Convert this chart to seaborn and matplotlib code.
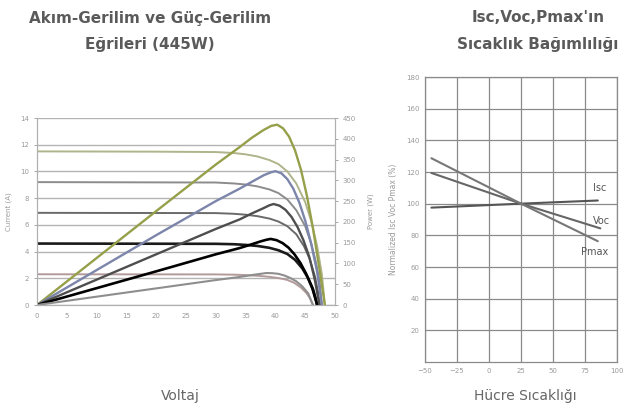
import matplotlib
matplotlib.use("Agg")
import matplotlib.pyplot as plt
import seaborn as sns

sns.set_theme(style="white")
plt.rcParams['font.family'] = ['DejaVu Sans']

# ---------------- Left chart data ----------------
iv_v1 = [0, 20, 30, 33, 35, 37, 39, 40.5, 42, 43.5, 45, 46, 47, 47.8, 48.3]
iv_i1 = [11.5, 11.48, 11.45, 11.38, 11.28, 11.12, 10.85, 10.55, 10.0, 9.1, 7.7, 6.3, 4.4, 2.3, 0]
iv_v2 = [0, 30, 33, 35, 37, 39, 40.5, 42, 43.5, 45, 46, 46.8, 47.4, 47.8]
iv_i2 = [9.2, 9.17, 9.1, 9.02, 8.88, 8.65, 8.38, 7.9, 7.1, 5.9, 4.6, 3.2, 1.8, 0]
iv_v3 = [0, 30, 33, 35, 37, 39, 40.5, 42, 43.5, 44.8, 45.8, 46.6, 47.1, 47.4]
iv_i3 = [6.9, 6.88, 6.83, 6.76, 6.65, 6.47, 6.25, 5.9, 5.3, 4.4, 3.4, 2.2, 1.1, 0]
iv_v4 = [0, 30, 33, 35, 37, 39, 40.5, 42, 43.3, 44.5, 45.5, 46.3, 46.7, 47.0]
iv_i4 = [4.6, 4.58, 4.55, 4.5, 4.42, 4.28, 4.1, 3.82, 3.38, 2.75, 2.0, 1.2, 0.6, 0]
iv_v5 = [0, 30, 33, 35, 37, 39, 40.5, 42, 43.2, 44.3, 45.2, 45.8, 46.3]
iv_i5 = [2.3, 2.29, 2.27, 2.24, 2.19, 2.11, 2.02, 1.88, 1.65, 1.3, 0.9, 0.5, 0]

pv_v1 = [0, 10, 20, 30, 34, 36, 38, 39.3, 40.3, 41.3, 42.3, 43.3, 44.3, 45.3, 46.3, 47.3, 48.3]
pv_p1 = [0, 113, 226, 338, 380, 402, 421, 431, 434, 425, 405, 372, 325, 262, 185, 95, 0]
pv_v2 = [0, 10, 20, 30, 34, 36, 38, 39.2, 40, 41, 42, 43, 44, 45, 46, 47, 47.8]
pv_p2 = [0, 84, 168, 250, 280, 296, 312, 319, 322, 317, 303, 280, 247, 203, 148, 80, 0]
pv_v3 = [0, 10, 20, 30, 34, 36, 38, 39, 39.7, 40.7, 41.7, 42.7, 43.7, 44.7, 45.7, 46.6, 47.4]
pv_p3 = [0, 61, 122, 183, 206, 220, 233, 240, 243, 239, 229, 212, 188, 156, 115, 62, 0]
pv_v4 = [0, 10, 20, 30, 34, 36, 37.5, 38.5, 39.2, 40.2, 41.2, 42.2, 43.2, 44.2, 45.2, 46.2, 47.0]
pv_p4 = [0, 40.5, 81, 122, 137, 146, 153, 157, 159, 156, 149, 138, 122, 101, 74, 40, 0]
pv_v5 = [0, 10, 20, 30, 34, 36, 37.5, 38.5, 39.5, 40.5, 41.5, 42.5, 43.5, 44.5, 45.5, 46.3]
pv_p5 = [0, 20, 40, 60, 67.5, 72, 75, 77, 76.5, 75, 71, 65, 57, 45, 28, 0]

volt_ticks = [0, 5, 10, 15, 20, 25, 30, 35, 40, 45, 50]
curr_ticks = [0, 2, 4, 6, 8, 10, 12, 14]
power_ticks = [0, 50, 100, 150, 200, 250, 300, 350, 400, 450]

# ---------------- Right chart data ----------------
temp_isc = [-45, 25, 85]
val_isc = [97.5, 100, 102]
temp_voc = [-45, 25, 87]
val_voc = [119.4, 100, 84.4]
temp_pmax = [-45, 25, 85]
val_pmax = [128.7, 100, 76.3]
temp_ticks = [-50, -25, 0, 25, 50, 75, 100]
norm_ticks = [20, 40, 60, 80, 100, 120, 140, 160, 180]
curve_names = ["Isc", "Voc", "Pmax"]
name_x = [86.7, 88, 82.5]
name_y = [110, 88.8, 69.4]

fig = plt.figure(figsize=(6.35, 4.15), dpi=100)
fig.patch.set_facecolor("white")

# ================= Left chart =================
ax = fig.add_axes([37/635, 1-305/415, (335-37)/635, (305-118)/415])
ax2 = ax.twinx()

grid_c = "#b4b4b4"
for c in curr_ticks:
    ax.axhline(c, color=grid_c, lw=1.0, zorder=0)

iv_sets = [(iv_v1, iv_i1, "#b0b48a", 1.4), (iv_v2, iv_i2, "#8c8c8c", 1.4),
           (iv_v3, iv_i3, "#6a6a6a", 1.4), (iv_v4, iv_i4, "#1a1a1a", 1.9),
           (iv_v5, iv_i5, "#b39a9a", 1.4)]
for v, i, col, lw in iv_sets:
    sns.lineplot(x=v, y=i, ax=ax, color=col, lw=lw, sort=False, estimator=None)

pv_sets = [(pv_v1, pv_p1, "#96a04a", 1.7), (pv_v2, pv_p2, "#7c85aa", 1.7),
           (pv_v3, pv_p3, "#4e4e4e", 1.7), (pv_v4, pv_p4, "#000000", 1.9),
           (pv_v5, pv_p5, "#8e8e8e", 1.5)]
for v, p, col, lw in pv_sets:
    sns.lineplot(x=v, y=p, ax=ax2, color=col, lw=lw, sort=False, estimator=None)

ax.set_xlim(0, 50)
ax.set_ylim(0, 14)
ax2.set_ylim(0, 450)
ax.set_xticks(volt_ticks)
ax.set_yticks(curr_ticks)
ax2.set_yticks(power_ticks)
tick_c = "#9a9a9a"
for a in (ax, ax2):
    a.tick_params(labelsize=5, colors=tick_c, length=2, width=0.6)
    for s in a.spines.values():
        s.set_color("#b0b0b0")
        s.set_linewidth(0.8)
ax.spines["top"].set_visible(False)
ax2.spines["top"].set_visible(False)
ax.set_ylabel("Current (A)", fontsize=5, color=tick_c, labelpad=6)
ax2.set_ylabel("Power (W)", fontsize=5, color=tick_c, labelpad=8)
ax.set_xlabel("")

# ================= Right chart =================
bx = fig.add_axes([425/635, 1-362/415, (617-425)/635, (362-77)/415])
sns.lineplot(x=temp_isc, y=val_isc, ax=bx, color="#555555", lw=1.5)
sns.lineplot(x=temp_voc, y=val_voc, ax=bx, color="#666666", lw=1.5)
sns.lineplot(x=temp_pmax, y=val_pmax, ax=bx, color="#777777", lw=1.5)
for nm, tx, ty in zip(curve_names, name_x, name_y):
    bx.text(tx, ty, nm, fontsize=7, color="#555555", ha="center", va="center")
bx.set_xlim(-50, 100)
bx.set_ylim(0, 180)
bx.set_xticks(temp_ticks)
bx.set_yticks(norm_ticks)
bx.grid(True, color="#8a8a8a", lw=0.9)
bx.set_axisbelow(True)
bx.tick_params(labelsize=5, colors=tick_c, length=0, pad=4)
for s in bx.spines.values():
    s.set_color("#8a8a8a")
    s.set_linewidth(0.9)
bx.set_ylabel("Normalized Isc Voc Pmax (%)", fontsize=5.5, color=tick_c, labelpad=6)

# ================= Titles and axis names =================
title_c = "#5a5a5a"
fig.text(150/635, 1-18/415, "Akım-Gerilim ve Güç-Gerilim", fontsize=11, fontweight="bold",
         color=title_c, ha="center", va="center")
fig.text(150/635, 1-45/415, "Eğrileri (445W)", fontsize=11, fontweight="bold",
         color=title_c, ha="center", va="center")
fig.text(538/635, 1-18/415, "Isc,Voc,Pmax'ın", fontsize=11, fontweight="bold",
         color=title_c, ha="center", va="center")
fig.text(538/635, 1-45/415, "Sıcaklık Bağımlılığı", fontsize=11, fontweight="bold",
         color=title_c, ha="center", va="center")
fig.text(180/635, 1-396/415, "Voltaj", fontsize=10, color="#666666", ha="center", va="center")
fig.text(525/635, 1-396/415, "Hücre Sıcaklığı", fontsize=10, color="#666666", ha="center", va="center")

fig.savefig("out.png", dpi=100, facecolor="white")
